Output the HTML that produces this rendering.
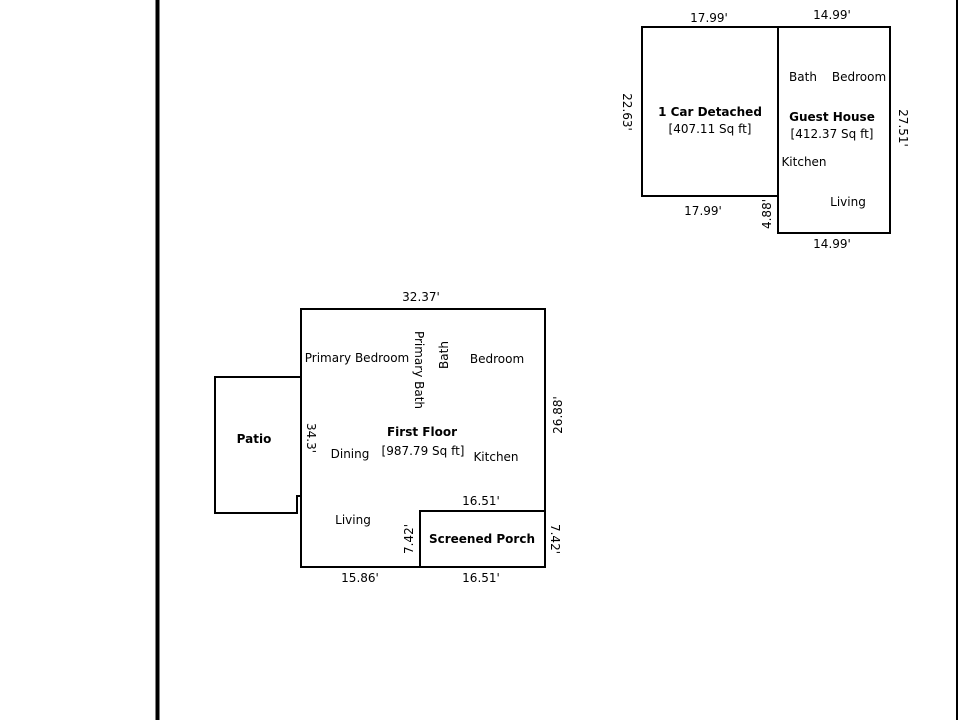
<!DOCTYPE html>
<html><head><meta charset="utf-8"><style>
html,body{margin:0;padding:0;background:#fff;}
svg{display:block;}
text{font-family:"DejaVu Sans","Liberation Sans",sans-serif;font-size:12px;fill:#000;}
.b{font-weight:bold;}
</style></head><body>
<svg width="960" height="720" viewBox="0 0 960 720">
<rect width="960" height="720" fill="#fff"/>
<line x1="157.5" y1="0" x2="157.5" y2="720" stroke="#000" stroke-width="4"/>
<line x1="957" y1="0" x2="957" y2="720" stroke="#000" stroke-width="2"/>
<g fill="none" stroke="#000" stroke-width="2">
<rect x="642" y="27" width="136" height="169"/>
<rect x="778" y="27" width="112" height="206"/>
<rect x="301" y="309" width="244" height="258"/>
<rect x="420" y="511" width="125" height="56"/>
<polyline points="301,377 215,377 215,513 297,513 297,496 301,496"/>
</g>
<g text-anchor="middle">
<text x="709" y="22">17.99'</text>
<text x="832" y="19">14.99'</text>
<text x="703" y="215">17.99'</text>
<text x="832" y="248">14.99'</text>
<text class="b" x="710" y="116">1 Car Detached</text>
<text x="710" y="133">[407.11 Sq ft]</text>
<text class="b" x="832" y="121">Guest House</text>
<text x="832" y="138">[412.37 Sq ft]</text>
<text x="803" y="81">Bath</text>
<text x="859" y="81">Bedroom</text>
<text x="804" y="166">Kitchen</text>
<text x="848" y="206">Living</text>
<text transform="translate(623,112) rotate(90)">22.63'</text>
<text transform="translate(899,128) rotate(90)">27.51'</text>
<text transform="translate(771,214) rotate(-90)">4.88'</text>

<text x="421" y="301">32.37'</text>
<text x="360" y="582">15.86'</text>
<text x="481" y="582">16.51'</text>
<text x="481" y="505">16.51'</text>
<text class="b" x="254" y="443">Patio</text>
<text x="357" y="362">Primary Bedroom</text>
<text x="497" y="363">Bedroom</text>
<text class="b" x="422" y="436">First Floor</text>
<text x="423" y="455">[987.79 Sq ft]</text>
<text x="350" y="458">Dining</text>
<text x="496" y="461">Kitchen</text>
<text x="353" y="524">Living</text>
<text class="b" x="482" y="543">Screened Porch</text>
<text transform="translate(415,370) rotate(90)">Primary Bath</text>
<text transform="translate(448,355) rotate(-90)">Bath</text>
<text transform="translate(307,438) rotate(90)">34.3'</text>
<text transform="translate(562,415) rotate(-90)">26.88'</text>
<text transform="translate(413,539) rotate(-90)">7.42'</text>
<text transform="translate(551,539) rotate(90)">7.42'</text>
</g>
</svg>
</body></html>
